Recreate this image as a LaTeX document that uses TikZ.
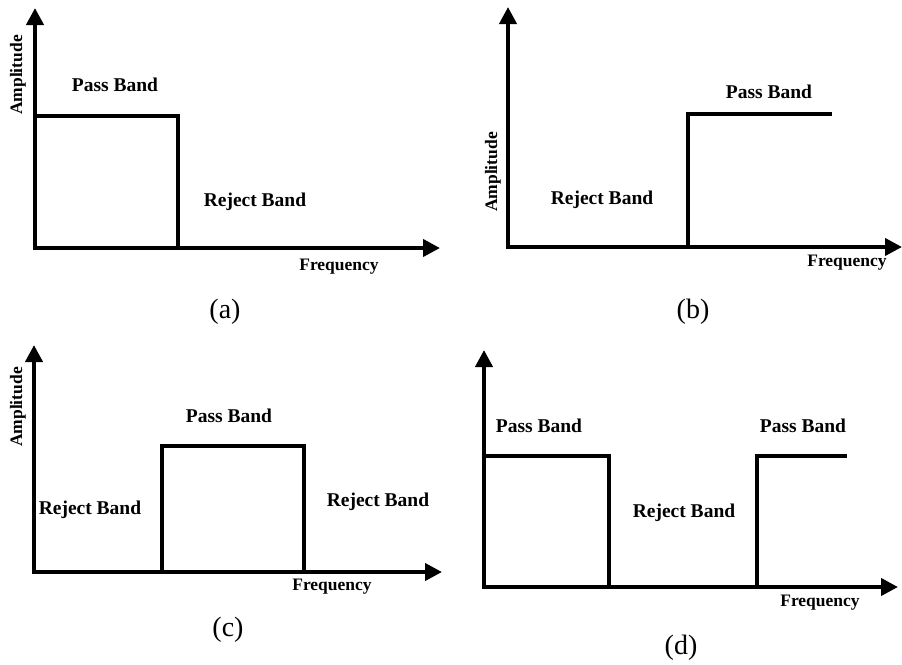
\documentclass[tikz,border=0pt]{standalone}
\usepackage{fontspec}
\setmainfont{Liberation Serif}
\usetikzlibrary{arrows.meta}
\begin{document}
\begin{tikzpicture}[x=1pt,y=-1pt,
  axis/.style={line width=4pt,line join=miter,{Triangle[length=17pt,width=17pt]}-{Triangle[length=17pt,width=17pt]}},
  resp/.style={line width=4pt,line join=miter,line cap=butt},
  band/.style={font=\fontsize{19.5}{22}\selectfont\bfseries,inner sep=0pt},
  freq/.style={font=\fontsize{17.5}{20}\selectfont\bfseries,inner sep=0pt},
  ampl/.style={font=\fontsize{17.5}{20}\selectfont\bfseries,inner sep=0pt,rotate=90},
  caption/.style={font=\fontsize{28}{30}\selectfont,inner sep=0pt}]
\useasboundingbox (0,0) rectangle (902,664);

% (a) low-pass
\coordinate (aO) at (35,248);
\coordinate (aT) at (35,8);
\coordinate (aR) at (440,248);
\coordinate (aP) at (35,116);
\coordinate (aE) at (178,116);
\coordinate (aB) at (178,248);
\draw[axis] (aT) -- (aO) -- (aR);
\draw[resp] (aP) -- (aE) -- (aB);
\node[band] (aPass) at (115,85) {Pass Band};
\node[band] (aRej) at (255,202) {Reject Band};
\node[freq] (aFreq) at (339,267) {Frequency};
\node[ampl] (aAmp) at (18,75) {Amplitude};
\node[caption] (aCap) at (225,312) {(a)};

% (b) high-pass
\coordinate (bO) at (508,247);
\coordinate (bT) at (508,7);
\coordinate (bR) at (902,247);
\coordinate (bB) at (688,247);
\coordinate (bE) at (688,114);
\coordinate (bP) at (832,114);
\draw[axis] (bT) -- (bO) -- (bR);
\draw[resp] (bB) -- (bE) -- (bP);
\node[band] (bPass) at (769,92) {Pass Band};
\node[band] (bRej) at (602,200) {Reject Band};
\node[freq] (bFreq) at (847,263) {Frequency};
\node[ampl] (bAmp) at (493,172) {Amplitude};
\node[caption] (bCap) at (693,312) {(b)};

% (c) band-pass
\coordinate (cO) at (34,572);
\coordinate (cT) at (34,345);
\coordinate (cR) at (442,572);
\coordinate (cB1) at (162,572);
\coordinate (cE1) at (162,446);
\coordinate (cE2) at (304,446);
\coordinate (cB2) at (304,572);
\draw[axis] (cT) -- (cO) -- (cR);
\draw[resp] (cB1) -- (cE1) -- (cE2) -- (cB2);
\node[band] (cPass) at (229,416) {Pass Band};
\node[band] (cRejL) at (90,510) {Reject Band};
\node[band] (cRejR) at (378,502) {Reject Band};
\node[freq] (cFreq) at (332,587) {Frequency};
\node[ampl] (cAmp) at (18,407) {Amplitude};
\node[caption] (cCap) at (228,630) {(c)};

% (d) band-stop
\coordinate (dO) at (484,587);
\coordinate (dT) at (484,350);
\coordinate (dR) at (898,587);
\coordinate (dP1) at (484,456);
\coordinate (dE1) at (609,456);
\coordinate (dB1) at (609,587);
\coordinate (dB2) at (757,587);
\coordinate (dE2) at (757,456);
\coordinate (dP2) at (847,456);
\draw[axis] (dT) -- (dO) -- (dR);
\draw[resp] (dP1) -- (dE1) -- (dB1);
\draw[resp] (dB2) -- (dE2) -- (dP2);
\node[band] (dPassL) at (539,426) {Pass Band};
\node[band] (dPassR) at (803,426) {Pass Band};
\node[band] (dRej) at (684,513) {Reject Band};
\node[freq] (dFreq) at (820,603) {Frequency};
\node[caption] (dCap) at (681,648) {(d)};
\end{tikzpicture}
\end{document}
